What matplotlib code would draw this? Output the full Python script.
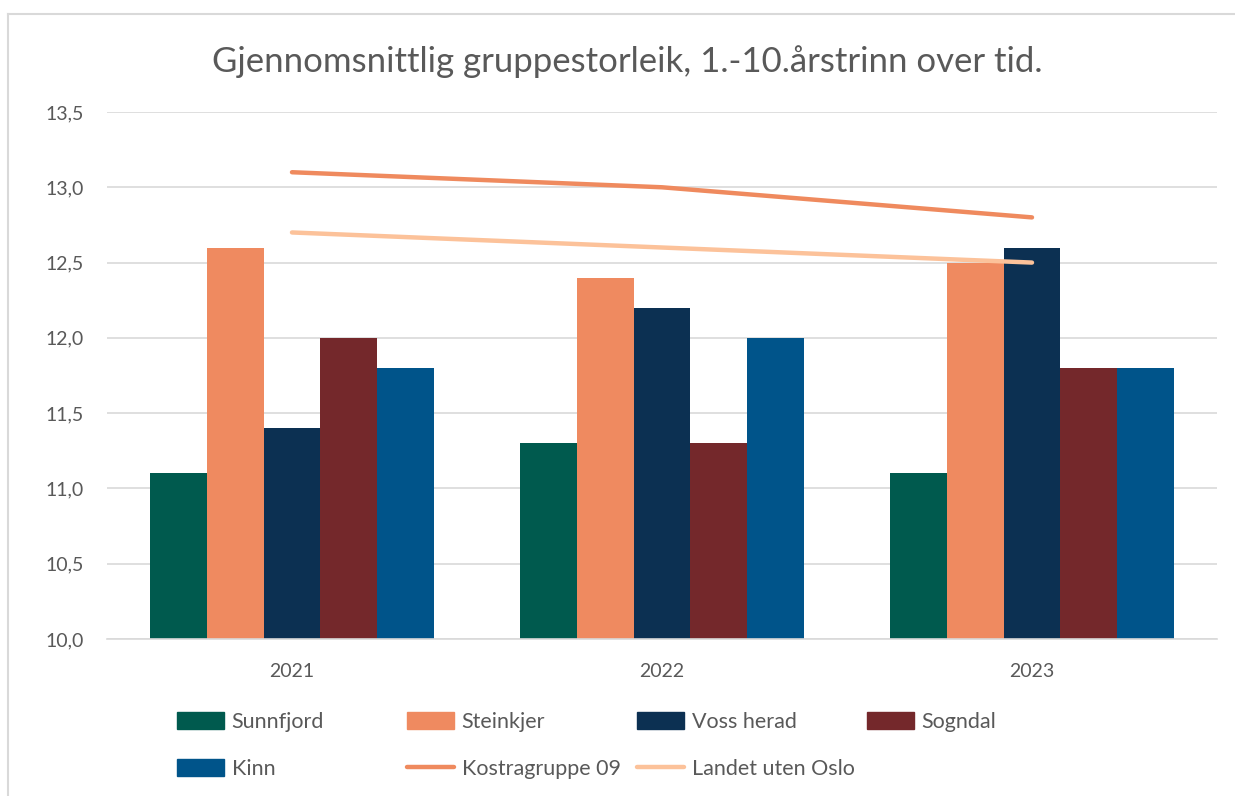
import matplotlib
matplotlib.use("Agg")
import matplotlib.pyplot as plt
import numpy as np
from matplotlib.lines import Line2D
from matplotlib.patches import Patch

plt.rcParams["font.family"] = ["Lato", "DejaVu Sans"]

# data
years = ["2021", "2022", "2023"]
sunnfjord = [11.1, 11.3, 11.1]
steinkjer = [12.6, 12.4, 12.5]
voss = [11.4, 12.2, 12.6]
sogndal = [12.0, 11.3, 11.8]
kinn = [11.8, 12.0, 11.8]
kostra09 = [13.1, 13.0, 12.8]
landet = [12.7, 12.6, 12.5]

bar_series = [
    ("Sunnfjord", sunnfjord, "#005a4e"),
    ("Steinkjer", steinkjer, "#ef8a60"),
    ("Voss herad", voss, "#0c3052"),
    ("Sogndal", sogndal, "#74282b"),
    ("Kinn", kinn, "#00548a"),
]
line_series = [
    ("Kostragruppe 09", kostra09, "#ef8a5e"),
    ("Landet uten Oslo", landet, "#fcc29a"),
]

W, H = 1235, 796
fig = plt.figure(figsize=(W / 100, H / 100), dpi=100)
ax = fig.add_axes([107 / W, 1 - 639 / H, 1110 / W, (639 - 112) / H])

x = np.arange(len(years))
bw = 0.154
for i, (name, vals, col) in enumerate(bar_series):
    ax.bar(x + (i - 2) * bw, np.array(vals) - 10.0, bottom=10.0, width=bw,
           color=col, zorder=2)

for name, vals, col in line_series:
    ax.plot(x, vals, color=col, linewidth=3.2, solid_capstyle="round", zorder=3)

ax.set_xlim(-0.5, 2.5)
ax.set_ylim(10, 13.5)
ax.set_yticks(np.arange(10, 13.51, 0.5))
ax.set_yticklabels([f"{v:.1f}".replace(".", ",") for v in np.arange(10, 13.51, 0.5)])
ax.set_xticks(x)
ax.set_xticklabels(years)
ax.tick_params(axis="both", length=0, labelsize=14, colors="#595959")
ax.tick_params(axis="y", pad=17)
ax.tick_params(axis="x", pad=17)
ax.grid(axis="y", color="#d9d9d9", linewidth=1.2, zorder=0)
ax.set_axisbelow(True)
for s in ["top", "right", "left"]:
    ax.spines[s].set_visible(False)
ax.spines["bottom"].set_color("#d9d9d9")
ax.spines["bottom"].set_linewidth(1.2)

fig.text(627 / W, 1 - 62 / H, "Gjennomsnittlig gruppestorleik, 1.-10.årstrinn over tid.",
         ha="center", va="center", fontsize=25, color="#595959")

# legend, Excel style fixed-width columns
entries = [(Patch(color=c), n) for n, _, c in bar_series] + \
          [(Line2D([], [], color=c, linewidth=3.2, solid_capstyle="round"), n)
           for n, _, c in line_series]
col_x = [166, 396, 626, 856]
row_y = [722, 769]
for k, (h, lab) in enumerate(entries):
    r, c = divmod(k, 4)
    fig.legend([h], [lab], loc="center left",
               bbox_to_anchor=(col_x[c] / W, 1 - row_y[r] / H),
               frameon=False, fontsize=15.5, handlelength=2.2, handleheight=0.8,
               handletextpad=0.35, borderpad=0, labelcolor="#595959")

# light frame on left/top
fig.add_artist(Line2D([8 / W, 8 / W], [0, 1 - 14 / H], color="#d9d9d9", linewidth=1.5,
                      transform=fig.transFigure))
fig.add_artist(Line2D([8 / W, 1], [1 - 14 / H, 1 - 14 / H], color="#d9d9d9", linewidth=1.5,
                      transform=fig.transFigure))

fig.savefig("out.png", dpi=100, facecolor="white")
